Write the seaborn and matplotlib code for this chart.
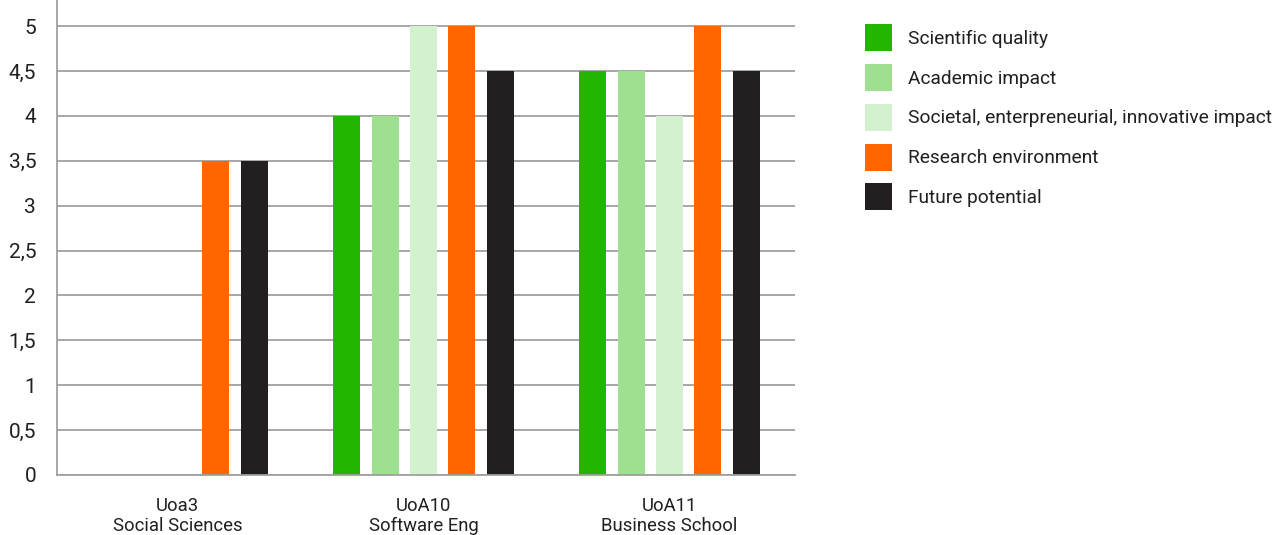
import matplotlib
matplotlib.use("Agg")
import matplotlib.pyplot as plt
import seaborn as sns
import pandas as pd
import numpy as np
from matplotlib.patches import Patch

categories = ["Uoa3\nSocial Sciences", "UoA10\nSoftware Eng", "UoA11\nBusiness School"]
series = ["Scientific quality", "Academic impact",
          "Societal, enterpreneurial, innovative impact",
          "Research environment", "Future potential"]
scientific_quality = [np.nan, 4.0, 4.5]
academic_impact = [np.nan, 4.0, 4.5]
societal_impact = [np.nan, 5.0, 4.0]
research_environment = [3.5, 5.0, 5.0]
future_potential = [3.5, 4.5, 4.5]
colors = ["#22b600", "#9ee08f", "#d4f1cf", "#ff6600", "#231f20"]
ytick_vals = [0, 0.5, 1, 1.5, 2, 2.5, 3, 3.5, 4, 4.5, 5]
ytick_labels = ["0", "0,5", "1", "1,5", "2", "2,5", "3", "3,5", "4", "4,5", "5"]

values = [scientific_quality, academic_impact, societal_impact,
          research_environment, future_potential]
rows = []
for s, vals in zip(series, values):
    for c, v in zip(categories, vals):
        rows.append({"category": c, "series": s, "value": v})
df = pd.DataFrame(rows)

sns.set_theme(style="white")
plt.rcParams["font.family"] = ["Roboto", "DejaVu Sans"]

W, H = 1278, 535
fig = plt.figure(figsize=(W / 100, H / 100), dpi=100)
ax = fig.add_axes([57 / W, (H - 475) / H, 738 / W, 475 / H])

sns.barplot(data=df, x="category", y="value", hue="series",
            order=categories, hue_order=series, palette=colors,
            width=0.78, gap=0.3, ax=ax, legend=False, saturation=1,
            linewidth=0, edgecolor="none")

ax.set_ylim(0, 5.29)
ax.set_xlim(-0.49, 2.51)
ax.set_yticks(ytick_vals)
ax.set_yticklabels(ytick_labels)
ax.set_xlabel("")
ax.set_ylabel("")
ax.set_axisbelow(True)
ax.yaxis.grid(True, color="#a0a0a0", linewidth=1.3)
ax.xaxis.grid(False)
for side in ["top", "right"]:
    ax.spines[side].set_visible(False)
for side in ["left", "bottom"]:
    ax.spines[side].set_color("#a0a0a0")
    ax.spines[side].set_linewidth(1.3)
ax.tick_params(axis="y", length=0, pad=15, labelsize=15, labelcolor="#231f20")
ax.tick_params(axis="x", length=0, pad=16, labelsize=13.3, labelcolor="#231f20")
for t in ax.get_xticklabels():
    t.set_linespacing(1.15)

handles = [Patch(facecolor=c, edgecolor="none", label=s) for c, s in zip(colors, series)]
fig.legend(handles=handles, loc="upper left", bbox_to_anchor=(865 / W, 1 - 24 / H),
           frameon=False, fontsize=13.8, handlelength=1.41, handleheight=1.79,
           labelspacing=0.67, handletextpad=0.83, borderaxespad=0, borderpad=0,
           labelcolor="#231f20")

fig.savefig("out.png", dpi=100)
